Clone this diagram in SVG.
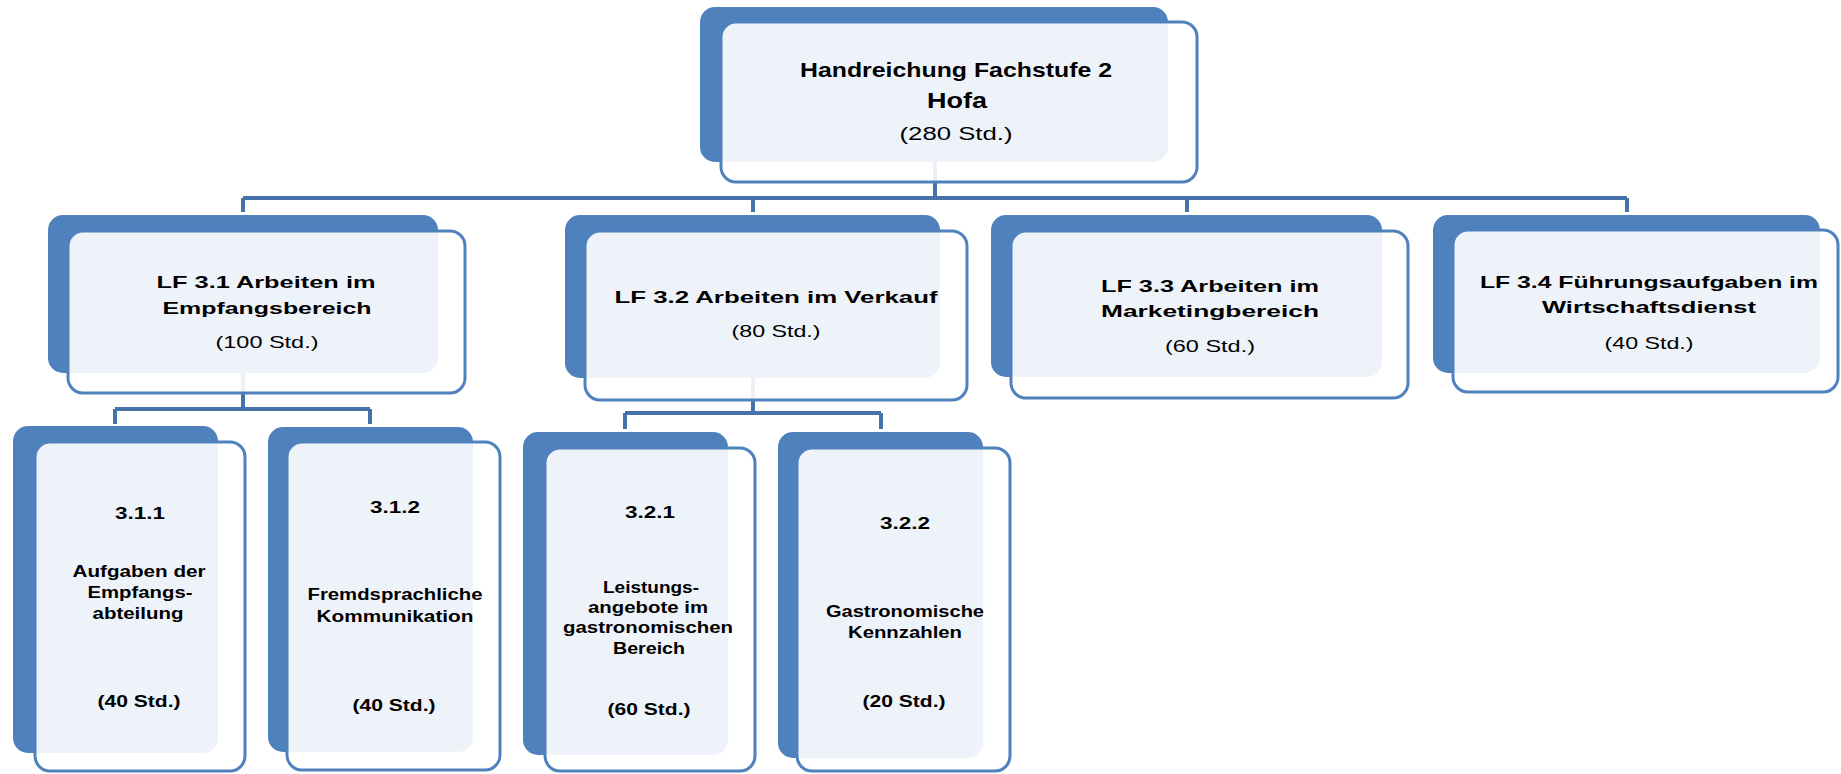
<svg xmlns="http://www.w3.org/2000/svg" width="1841" height="774" viewBox="0 0 1841 774">
<style>
.back{fill:#4F81BD}
.front{fill:#FFFFFF;fill-opacity:0.9;stroke:#4F81BD;stroke-width:3}
.conn{stroke:#4672AA;stroke-width:4;fill:none}
.t{font-family:"Liberation Sans",Arial,sans-serif;text-anchor:middle;fill:#000}
.b{font-weight:bold}
.h{font-size:17px}
.c{font-size:16px;font-weight:bold}
</style>
<rect x="0" y="0" width="1841" height="774" fill="#FFFFFF"/>
<g id="connectors">
<path class="conn" d="M935,162 V198 M243,198 H1627 M243,198 V212 M753,198 V212 M1187,198 V212 M1627,198 V212"/>
<path class="conn" d="M243,373 V409 M115,409 H370 M115,409 V424 M370,409 V424"/>
<path class="conn" d="M753,378 V413 M625,413 H881 M625,413 V429 M881,413 V429"/>
</g>
<g id="root">
<rect class="back" x="700" y="7" width="468" height="155" rx="15"/>
<rect class="front" x="721" y="22" width="476" height="160" rx="15"/>
<text class="t b" x="956" y="77" font-size="21" textLength="312" lengthAdjust="spacingAndGlyphs">Handreichung Fachstufe 2</text>
<text class="t b" x="957" y="108" font-size="22" textLength="60" lengthAdjust="spacingAndGlyphs">Hofa</text>
<text class="t" x="956" y="140" font-size="18" textLength="113" lengthAdjust="spacingAndGlyphs">(280 Std.)</text>
</g>
<g id="lf31">
<rect class="back" x="48" y="215" width="390" height="158" rx="15"/>
<rect class="front" x="68" y="231" width="397" height="162" rx="15"/>
<text class="t b h" x="266" y="288" textLength="219" lengthAdjust="spacingAndGlyphs">LF 3.1 Arbeiten im</text>
<text class="t b h" x="267" y="314" textLength="209" lengthAdjust="spacingAndGlyphs">Empfangsbereich</text>
<text class="t h" x="267" y="348" textLength="103" lengthAdjust="spacingAndGlyphs">(100 Std.)</text>
</g>
<g id="lf32">
<rect class="back" x="565" y="215" width="375" height="163" rx="15"/>
<rect class="front" x="585" y="231" width="382" height="169" rx="15"/>
<text class="t b h" x="776" y="303" textLength="323" lengthAdjust="spacingAndGlyphs">LF 3.2 Arbeiten im Verkauf</text>
<text class="t h" x="776" y="337" textLength="89" lengthAdjust="spacingAndGlyphs">(80 Std.)</text>
</g>
<g id="lf33">
<rect class="back" x="991" y="215" width="391" height="162" rx="15"/>
<rect class="front" x="1011" y="231" width="397" height="167" rx="15"/>
<text class="t b h" x="1210" y="292" textLength="218" lengthAdjust="spacingAndGlyphs">LF 3.3 Arbeiten im</text>
<text class="t b h" x="1210" y="317" textLength="218" lengthAdjust="spacingAndGlyphs">Marketingbereich</text>
<text class="t h" x="1210" y="352" textLength="90" lengthAdjust="spacingAndGlyphs">(60 Std.)</text>
</g>
<g id="lf34">
<rect class="back" x="1433" y="215" width="387" height="158" rx="15"/>
<rect class="front" x="1453" y="230" width="385" height="162" rx="15"/>
<text class="t b h" x="1649" y="288" textLength="338" lengthAdjust="spacingAndGlyphs">LF 3.4 Führungsaufgaben im</text>
<text class="t b h" x="1649" y="313" textLength="214" lengthAdjust="spacingAndGlyphs">Wirtschaftsdienst</text>
<text class="t h" x="1649" y="349" textLength="89" lengthAdjust="spacingAndGlyphs">(40 Std.)</text>
</g>
<g id="n311">
<rect class="back" x="13" y="426" width="205" height="327" rx="15"/>
<rect class="front" x="35" y="442" width="210" height="329" rx="15"/>
<text class="t c" x="140" y="519" textLength="50" lengthAdjust="spacingAndGlyphs">3.1.1</text>
<text class="t c" x="139" y="577" textLength="133" lengthAdjust="spacingAndGlyphs">Aufgaben der</text>
<text class="t c" x="140" y="598" textLength="105" lengthAdjust="spacingAndGlyphs">Empfangs-</text>
<text class="t c" x="138" y="619" textLength="91" lengthAdjust="spacingAndGlyphs">abteilung</text>
<text class="t c" x="139" y="707" textLength="83" lengthAdjust="spacingAndGlyphs">(40 Std.)</text>
</g>
<g id="n312">
<rect class="back" x="268" y="427" width="205" height="325" rx="15"/>
<rect class="front" x="287" y="442" width="213" height="328" rx="15"/>
<text class="t c" x="395" y="513" textLength="50" lengthAdjust="spacingAndGlyphs">3.1.2</text>
<text class="t c" x="395" y="600" textLength="175" lengthAdjust="spacingAndGlyphs">Fremdsprachliche</text>
<text class="t c" x="395" y="622" textLength="157" lengthAdjust="spacingAndGlyphs">Kommunikation</text>
<text class="t c" x="394" y="711" textLength="83" lengthAdjust="spacingAndGlyphs">(40 Std.)</text>
</g>
<g id="n321">
<rect class="back" x="523" y="432" width="205" height="323" rx="15"/>
<rect class="front" x="545" y="448" width="210" height="323" rx="15"/>
<text class="t c" x="650" y="518" textLength="50" lengthAdjust="spacingAndGlyphs">3.2.1</text>
<text class="t c" x="651" y="593" textLength="96" lengthAdjust="spacingAndGlyphs">Leistungs-</text>
<text class="t c" x="648" y="613" textLength="120" lengthAdjust="spacingAndGlyphs">angebote im</text>
<text class="t c" x="648" y="633" textLength="170" lengthAdjust="spacingAndGlyphs">gastronomischen</text>
<text class="t c" x="649" y="654" textLength="72" lengthAdjust="spacingAndGlyphs">Bereich</text>
<text class="t c" x="649" y="715" textLength="83" lengthAdjust="spacingAndGlyphs">(60 Std.)</text>
</g>
<g id="n322">
<rect class="back" x="778" y="432" width="205" height="326" rx="15"/>
<rect class="front" x="797" y="448" width="213" height="323" rx="15"/>
<text class="t c" x="905" y="529" textLength="50" lengthAdjust="spacingAndGlyphs">3.2.2</text>
<text class="t c" x="905" y="617" textLength="158" lengthAdjust="spacingAndGlyphs">Gastronomische</text>
<text class="t c" x="905" y="638" textLength="114" lengthAdjust="spacingAndGlyphs">Kennzahlen</text>
<text class="t c" x="904" y="707" textLength="83" lengthAdjust="spacingAndGlyphs">(20 Std.)</text>
</g>
</svg>
